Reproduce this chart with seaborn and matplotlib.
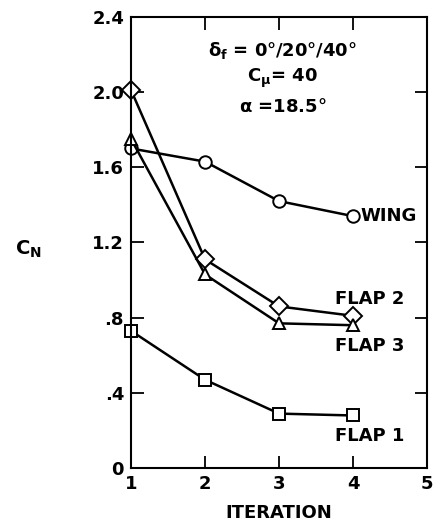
import seaborn as sns
import matplotlib.pyplot as plt
import pandas as pd

# values
iterations = [1, 2, 3, 4]
wing = [1.70, 1.63, 1.42, 1.34]
flap1 = [0.73, 0.47, 0.29, 0.28]
flap2 = [2.01, 1.11, 0.86, 0.81]
flap3 = [1.75, 1.03, 0.77, 0.76]

series_names = ["WING", "FLAP 1", "FLAP 2", "FLAP 3"]
y_ticks = [0, 0.4, 0.8, 1.2, 1.6, 2.0, 2.4]
y_tick_labels = ["0", ".4", ".8", "1.2", "1.6", "2.0", "2.4"]
x_ticks = [1, 2, 3, 4, 5]

sns.set_theme(style="ticks")
plt.rcParams["font.family"] = ["DejaVu Sans"]
plt.rcParams["font.weight"] = "bold"
plt.rcParams["mathtext.default"] = "bf"
for key in ["text.color", "axes.labelcolor", "xtick.color", "ytick.color"]:
    plt.rcParams[key] = "black"

data = pd.DataFrame({
    "Iteration": iterations * 4,
    "CN": wing + flap1 + flap2 + flap3,
    "Series": [s for s in series_names for _ in iterations],
})

fig = plt.figure(figsize=(4.34, 5.26), dpi=100)
ax = fig.add_axes([0.302, 0.110, 0.682, 0.858])

sns.lineplot(data=data, x="Iteration", y="CN", hue="Series", style="Series",
             palette={s: "black" for s in series_names},
             markers={"WING": "o", "FLAP 1": "s", "FLAP 2": "D", "FLAP 3": "^"},
             dashes=False, markersize=9, markerfacecolor="white",
             markeredgecolor="black", markeredgewidth=1.4, linewidth=1.8,
             clip_on=False, legend=False, ax=ax)

ax.set_xlim(1, 5)
ax.set_ylim(0, 2.4)
ax.set_xticks(x_ticks)
ax.set_yticks(y_ticks)
ax.set_yticklabels(y_tick_labels)
ax.tick_params(direction="in", length=9, width=1.3, top=True, right=True,
               labelsize=13, pad=5)
for spine in ax.spines.values():
    spine.set_linewidth(1.5)
    spine.set_color("black")

ax.set_xlabel("ITERATION", fontsize=13, fontweight="bold", labelpad=8)
ax.set_ylabel("")
fig.text(0.065, 0.525, r"C$_N$", fontsize=14, ha="center", va="center")

ax.text(3.05, 2.22, r"$\delta_f$ = 0°/20°/40°", fontsize=13, ha="center", va="center")
ax.text(3.05, 2.07, r"C$_\mu$= 40", fontsize=13, ha="center", va="center")
ax.text(3.05, 1.92, r"$\alpha$ =18.5°", fontsize=13, ha="center", va="center")

ax.text(4.1, 1.34, "WING", fontsize=13, ha="left", va="center")
ax.text(3.75, 0.90, "FLAP 2", fontsize=13, ha="left", va="center")
ax.text(3.75, 0.65, "FLAP 3", fontsize=13, ha="left", va="center")
ax.text(3.75, 0.17, "FLAP 1", fontsize=13, ha="left", va="center")

plt.savefig("out.png", dpi=100)
plt.close()
